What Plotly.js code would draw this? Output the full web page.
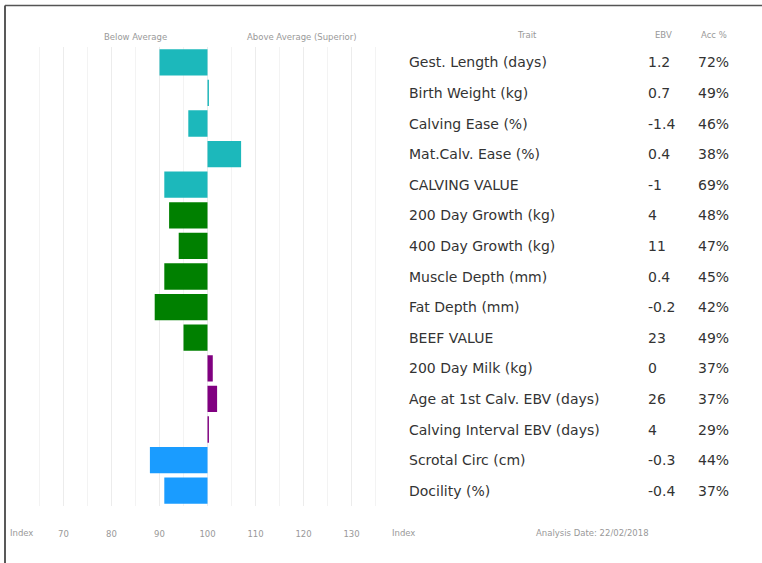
<!DOCTYPE html>
<html>
<head>
<meta charset="utf-8">
<script src="https://cdn.plot.ly/plotly-3.0.1.min.js"></script>
<style>
html,body{margin:0;padding:0;background:#fff;}
#chart{width:762px;height:563px;}
</style>
</head>
<body>
<div id="chart"></div>
<script>
// ---- data ----
const traits = ["Gest. Length (days)","Birth Weight (kg)","Calving Ease (%)","Mat.Calv. Ease (%)","CALVING VALUE",
  "200 Day Growth (kg)","400 Day Growth (kg)","Muscle Depth (mm)","Fat Depth (mm)","BEEF VALUE",
  "200 Day Milk (kg)","Age at 1st Calv. EBV (days)","Calving Interval EBV (days)","Scrotal Circ (cm)","Docility (%)"];
const ebv = ["1.2","0.7","-1.4","0.4","-1","4","11","0.4","-0.2","23","0","26","4","-0.3","-0.4"];
const acc = ["72%","49%","46%","38%","69%","48%","47%","45%","42%","49%","37%","37%","29%","44%","37%"];
const indexValues = [90,100.3,96,107,91,92,94,91,89,95,101.1,102,100.3,88,91];
const groups = ["calving","calving","calving","calving","calving","growth","growth","growth","growth","growth",
  "maternal","maternal","maternal","other","other"];
const tickVals = [70,80,90,100,110,120,130];
const tickText = ["70","80","90","100","110","120","130"];
const baseline = 100;

const groupColors = {calving:"#1cb8bb", growth:"#008000", maternal:"#800080", other:"#1a9cff"};

const W = 762, H = 563;
const px = v => v / W;
const py = v => 1 - v / H;

const trace = {
  type: "bar",
  orientation: "h",
  y: traits,
  x: indexValues.map(v => v - baseline),
  base: baseline,
  marker: {color: groups.map(g => groupColors[g])},
  hoverinfo: "skip"
};

const rowFont = {family:"DejaVu Sans", size:14, color:"#333"};
const annotations = [];
traits.forEach((t, i) => {
  annotations.push({xref:"paper", yref:"y", x:px(407), y:t, text:t, showarrow:false, xanchor:"left", yanchor:"middle", font:rowFont});
  annotations.push({xref:"paper", yref:"y", x:px(646), y:t, text:ebv[i], showarrow:false, xanchor:"left", yanchor:"middle", font:rowFont});
  annotations.push({xref:"paper", yref:"y", x:px(696), y:t, text:acc[i], showarrow:false, xanchor:"left", yanchor:"middle", font:rowFont});
});
const small = {family:"DejaVu Sans", size:8.5, color:"#999"};
function lab(x, y, text) {
  annotations.push({xref:"paper", yref:"paper", x:px(x), y:py(y), text:text, showarrow:false,
    xanchor:"center", yanchor:"middle", font:small});
}
lab(135, 37, "Below Average");
lab(302, 37, "Above Average (Superior)");
lab(527, 35, "Trait");
lab(663, 35, "EBV");
lab(714, 35, "Acc %");
lab(21, 533, "Index");
lab(403, 533, "Index");
lab(592, 533, "Analysis Date: 22/02/2018");

const layout = {
  width: W, height: H,
  margin: {l:0, r:0, t:0, b:0},
  paper_bgcolor: "#fff", plot_bgcolor: "#fff",
  showlegend: false,
  bargap: 0.14,
  xaxis: {
    domain: [px(15.5), px(387.5)],
    range: [60, 137.5],
    tickvals: tickVals, ticktext: tickText,
    tickfont: {family:"DejaVu Sans", size:8.5, color:"#999"},
    ticklabelstandoff: 21,
    showgrid: true, gridcolor: "#ececec", gridwidth: 1,
    minor: {dtick: 5, tick0: 60, showgrid: true, gridcolor: "#f3f3f3", gridwidth: 1},
    zeroline: false, showline: false, ticks: "", automargin: false, fixedrange: true
  },
  yaxis: {
    domain: [py(506), py(47)],
    range: [14.5, -0.5],
    type: "category",
    showticklabels: false, showgrid: false, zeroline: false, showline: false, ticks: "",
    automargin: false, fixedrange: true
  },
  annotations: annotations,
  shapes: [
    {type:"line", xref:"paper", yref:"paper", x0:px(5), x1:px(5), y0:py(5.5), y1:py(563), line:{color:"#222", width:1.5}},
    {type:"line", xref:"paper", yref:"paper", x0:px(5), x1:px(762), y0:py(5.5), y1:py(5.5), line:{color:"#555", width:1.5}}
  ]
};

Plotly.newPlot("chart", [trace], layout, {displayModeBar:false, staticPlot:true});
</script>
</body>
</html>
